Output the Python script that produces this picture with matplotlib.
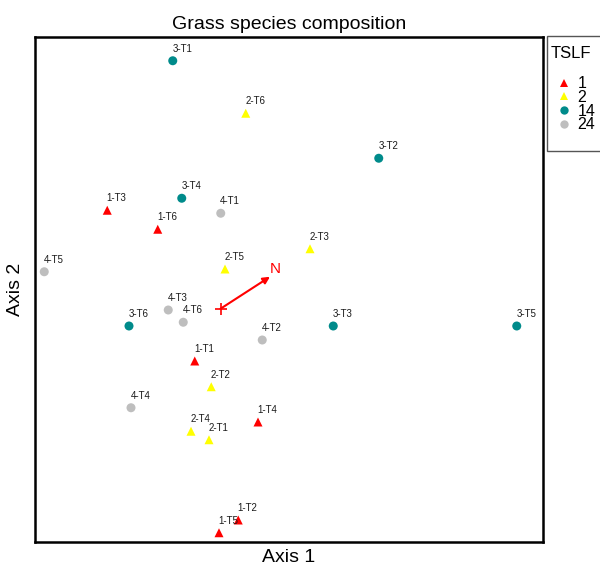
import matplotlib
matplotlib.use("Agg")
import matplotlib.pyplot as plt
from matplotlib.lines import Line2D
from matplotlib.patches import Rectangle

plt.rcParams['font.family'] = ['Liberation Sans', 'DejaVu Sans']

labels = ["3-T1", "2-T6", "3-T2", "1-T3", "3-T4", "4-T1", "1-T6", "2-T3",
          "4-T5", "2-T5", "4-T3", "4-T6", "3-T6", "3-T3", "3-T5", "4-T2",
          "1-T1", "2-T2", "4-T4", "1-T4", "2-T4", "2-T1", "1-T2", "1-T5"]
axis1 = [-0.191, 0.101, 0.633, -0.453, -0.155, 0.001, -0.251, 0.358,
         -0.705, 0.018, -0.209, -0.149, -0.366, 0.451, 1.185, 0.167,
         -0.103, -0.037, -0.358, 0.150, -0.118, -0.046, 0.071, -0.006]
axis2 = [0.992, 0.782, 0.602, 0.394, 0.442, 0.382, 0.318, 0.240,
         0.148, 0.159, -0.005, -0.054, -0.069, -0.069, -0.069, -0.125,
         -0.209, -0.312, -0.396, -0.453, -0.490, -0.524, -0.845, -0.896]
tslf = [14, 2, 14, 1, 14, 24, 1, 2,
        24, 2, 24, 24, 14, 14, 14, 24,
        1, 2, 24, 1, 2, 2, 1, 1]

groups = [1, 2, 14, 24]
group_colors = {1: "#FF0000", 2: "#FFFF00", 14: "#008B8B", 24: "#BEBEBE"}
group_markers = {1: "^", 2: "^", 14: "o", 24: "o"}

vector_name = "N"
vector_xy = (0.198, 0.128)

fig = plt.figure(figsize=(6.0, 5.69), dpi=100)
ax = fig.add_axes([35/600, 1-542/569, (543-35)/600, (542-37)/569])

for g in groups:
    xs = [x for x, t in zip(axis1, tslf) if t == g]
    ys = [y for y, t in zip(axis2, tslf) if t == g]
    ax.scatter(xs, ys, s=42, marker=group_markers[g], color=group_colors[g],
               edgecolors='none', zorder=3)

for lab, x, y in zip(labels, axis1, axis2):
    ax.annotate(lab, (x, y), xytext=(6.8, 8.5), textcoords='offset points',
                ha='center', va='center', fontsize=7, color='#1a1a1a', zorder=4)

# environmental vector
ax.plot([0], [0], marker='+', color='red', markersize=8, mew=1.2, zorder=4)
ax.annotate("", xy=vector_xy, xytext=(0, 0),
            arrowprops=dict(arrowstyle='-|>', color='red', lw=1.5,
                            mutation_scale=10, shrinkA=0, shrinkB=0), zorder=4)
ax.annotate(vector_name, vector_xy, xytext=(3.6, 5.8), textcoords='offset points',
            ha='center', va='center', fontsize=11, color='red')

ax.set_xlim(-0.742, 1.29)
ax.set_ylim(-0.933, 1.087)
ax.set_xticks([])
ax.set_yticks([])
for sp in ax.spines.values():
    sp.set_linewidth(1.8)
    sp.set_color('black')

ax.set_title("Grass species composition", fontsize=14, pad=6)
ax.set_xlabel("Axis 1", fontsize=14, labelpad=5)
ax.set_ylabel("Axis 2", fontsize=14, labelpad=8)

# legend frame
fig.add_artist(Rectangle((547/600, 1-151/569), 60/600, (151-36)/569,
                         transform=fig.transFigure, facecolor='white',
                         edgecolor='#555555', linewidth=1.0, zorder=1))

handles = [Line2D([], [], linestyle='none', marker=group_markers[g],
                  color=group_colors[g], markersize=6, markeredgewidth=0)
           for g in groups]
leg = fig.legend(handles, [str(g) for g in groups], title="TSLF",
                 loc='upper left', bbox_to_anchor=(551/600, 1-46/569),
                 fontsize=11.5, title_fontsize=12, frameon=False,
                 handlelength=1.6, handletextpad=0.05, labelspacing=-0.08,
                 borderpad=0.0, borderaxespad=0)
leg.set_zorder(2)
leg._legend_box.align = "left"
leg._legend_box.sep = 11

fig.savefig("out.png", dpi=100)
